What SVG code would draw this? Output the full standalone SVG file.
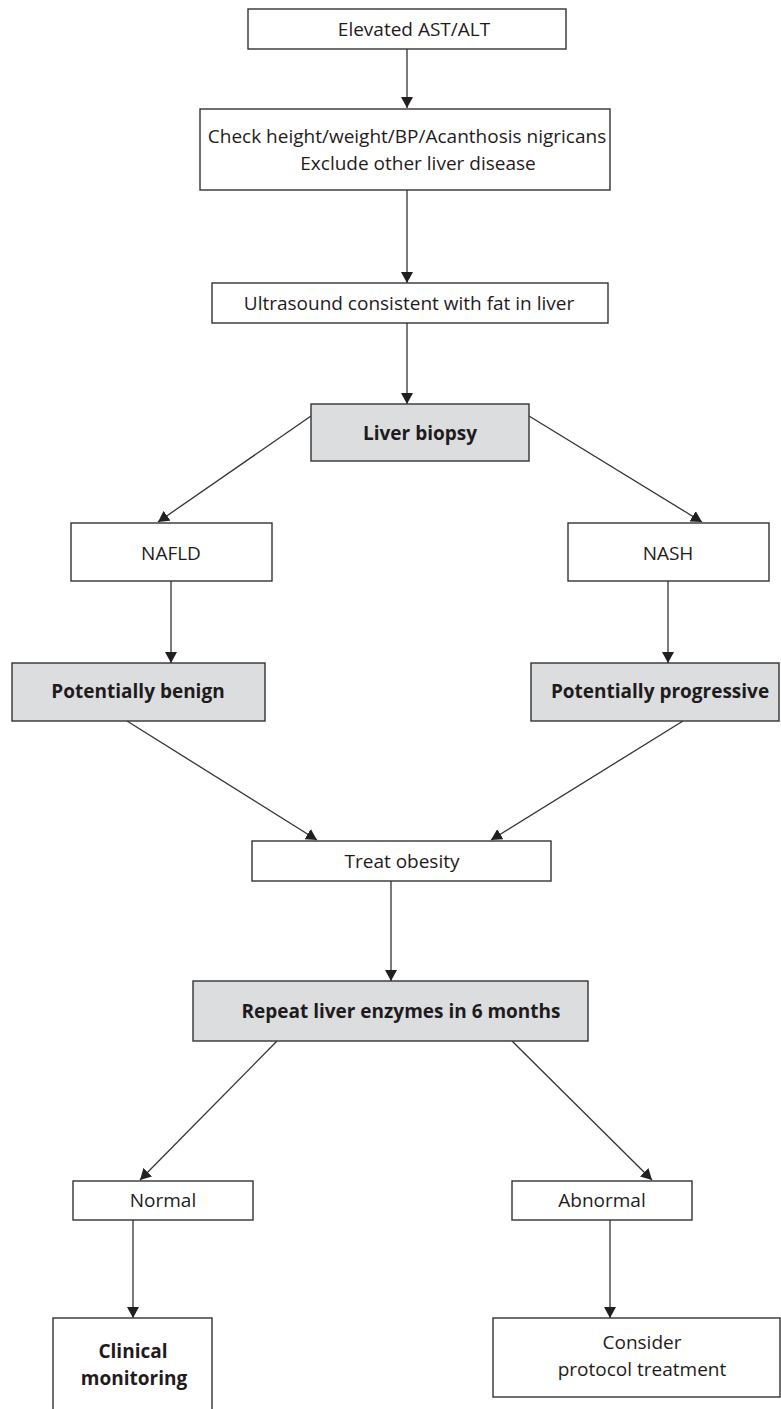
<svg xmlns="http://www.w3.org/2000/svg" width="781" height="1409" viewBox="0 0 781 1409">
<style>
.b{fill:#fff;stroke:#333;stroke-width:1.4}
.g{fill:#dcdddf;stroke:#333;stroke-width:1.4}
.t{font-family:"Open Sans","Liberation Sans",sans-serif;font-size:19px;fill:#1f1b1c;text-anchor:middle}
.tb{font-family:"Open Sans","Liberation Sans",sans-serif;font-size:19px;font-weight:bold;fill:#1f1b1c;text-anchor:middle}
.c{stroke:#333;stroke-width:1.3;fill:none;marker-end:url(#ah)}
</style>
<defs>
<marker id="ah" viewBox="0 0 11 12" refX="11" refY="6" markerWidth="11" markerHeight="12" orient="auto" markerUnits="userSpaceOnUse">
<path d="M0,0 L11,6 L0,12 z" fill="#231f20"/>
</marker>
</defs>
<rect width="781" height="1409" fill="#fff"/>
<g id="connectors">
<line class="c" x1="407" y1="49" x2="407" y2="108"/>
<line class="c" x1="407" y1="190" x2="407" y2="283"/>
<line class="c" x1="407" y1="323" x2="407" y2="404"/>
<line class="c" x1="311" y1="416" x2="158" y2="522"/>
<line class="c" x1="529" y1="416" x2="702" y2="522"/>
<line class="c" x1="171" y1="581" x2="171" y2="663"/>
<line class="c" x1="668" y1="581" x2="668" y2="663"/>
<line class="c" x1="127" y1="721" x2="317" y2="840"/>
<line class="c" x1="683" y1="721" x2="491" y2="840"/>
<line class="c" x1="391" y1="881" x2="391" y2="981"/>
<line class="c" x1="277" y1="1041" x2="140" y2="1180"/>
<line class="c" x1="512" y1="1041" x2="652" y2="1180"/>
<line class="c" x1="133" y1="1220" x2="133" y2="1318"/>
<line class="c" x1="610" y1="1220" x2="610" y2="1318"/>
</g>
<g id="n-elevated"><rect class="b" x="248" y="9" width="318" height="40"/><text class="t" x="414" y="36">Elevated AST/ALT</text></g>
<g id="n-check"><rect class="b" x="200" y="109" width="410" height="81"/><text class="t" x="407" y="143">Check height/weight/BP/Acanthosis nigricans</text><text class="t" x="418" y="170">Exclude other liver disease</text></g>
<g id="n-ultrasound"><rect class="b" x="212" y="283" width="396" height="40"/><text class="t" x="409" y="310">Ultrasound consistent with fat in liver</text></g>
<g id="n-biopsy"><rect class="g" x="311" y="404" width="218" height="57"/><text class="tb" x="420" y="440">Liver biopsy</text></g>
<g id="n-nafld"><rect class="b" x="71" y="523" width="201" height="58"/><text class="t" x="171" y="560">NAFLD</text></g>
<g id="n-nash"><rect class="b" x="568" y="523" width="201" height="58"/><text class="t" x="668" y="560">NASH</text></g>
<g id="n-benign"><rect class="g" x="12" y="663" width="253" height="58"/><text class="tb" x="138" y="698">Potentially benign</text></g>
<g id="n-progressive"><rect class="g" x="531" y="663" width="248" height="58"/><text class="tb" x="660" y="698">Potentially progressive</text></g>
<g id="n-treat"><rect class="b" x="252" y="841" width="299" height="40"/><text class="t" x="402" y="868">Treat obesity</text></g>
<g id="n-repeat"><rect class="g" x="193" y="981" width="395" height="60"/><text class="tb" x="401" y="1018">Repeat liver enzymes in 6 months</text></g>
<g id="n-normal"><rect class="b" x="73" y="1181" width="180" height="39"/><text class="t" x="163" y="1207">Normal</text></g>
<g id="n-abnormal"><rect class="b" x="512" y="1181" width="180" height="39"/><text class="t" x="602" y="1207">Abnormal</text></g>
<g id="n-clinical"><rect class="b" x="53" y="1318" width="159" height="100"/><text class="tb" x="133" y="1358">Clinical</text><text class="tb" x="134" y="1385">monitoring</text></g>
<g id="n-consider"><rect class="b" x="493" y="1318" width="287" height="79"/><text class="t" x="642" y="1349">Consider</text><text class="t" x="642" y="1376">protocol treatment</text></g>
</svg>
